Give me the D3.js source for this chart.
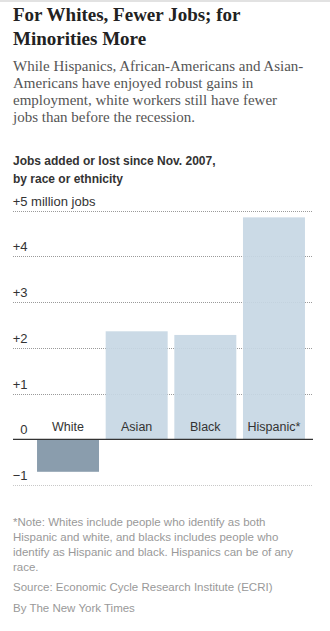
<!DOCTYPE html>
<html>
<head>
<meta charset="utf-8">
<script src="https://cdn.jsdelivr.net/npm/d3@7"></script>
<style>
  html, body { margin: 0; padding: 0; background: #fff; }
  svg { display: block; }
</style>
</head>
<body>
<svg id="chart" width="330" height="631"></svg>
<script>
// ---- Data ----
const categories = ["White", "Asian", "Black", "Hispanic*"];
const jobsChange = [-0.71, 2.36, 2.28, 4.85]; // millions of jobs since Nov. 2007
const yTicks = [-1, 0, 1, 2, 3, 4, 5];
const yTickLabels = ["\u22121", "0", "+1", "+2", "+3", "+4", "+5"];
const yTopSuffix = " million jobs";

const titleLines = ["For Whites, Fewer Jobs; for", "Minorities More"];
const subtitleLines = [
  "While Hispanics, African-Americans and Asian-",
  "Americans have enjoyed robust gains in",
  "employment, white workers still have fewer",
  "jobs than before the recession."
];
const headerLines = ["Jobs added or lost since Nov. 2007,", "by race or ethnicity"];
const noteLines = [
  "*Note: Whites include people who identify as both",
  "Hispanic and white, and blacks includes people who",
  "identify as Hispanic and black. Hispanics can be of any",
  "race."
];
const sourceText = "Source: Economic Cycle Research Institute (ECRI)";
const creditText = "By The New York Times";

// ---- Layout ----
const svg = d3.select("#chart");
const left = 13, right = 313;
const sans = "'Liberation Sans', Arial, Helvetica, sans-serif";
const serif = "'Liberation Serif', 'Times New Roman', serif";

// top border
svg.append("rect").attr("x", 0).attr("y", 0).attr("width", 330).attr("height", 2).attr("fill", "#e2e2e2");

// Title
svg.append("g").selectAll("text").data(titleLines).join("text")
  .attr("x", left).attr("y", (d, i) => 20.7 + i * 24.3)
  .attr("font-family", serif).attr("font-weight", "bold").attr("font-size", 19)
  .attr("fill", "#222").text(d => d);

// Subtitle
svg.append("g").selectAll("text").data(subtitleLines).join("text")
  .attr("x", left).attr("y", (d, i) => 70.7 + i * 17.2)
  .attr("font-family", serif).attr("font-size", 15)
  .attr("fill", "#555").text(d => d);

// Chart header
svg.append("g").selectAll("text").data(headerLines).join("text")
  .attr("x", left).attr("y", (d, i) => 165 + i * 17.7)
  .attr("font-family", sans).attr("font-weight", "bold").attr("font-size", 12)
  .attr("fill", "#333").text(d => d);

// Scales
const y = d3.scaleLinear().domain([0, 5]).range([439.3, 210.5]);
const x = d3.scaleBand().domain(categories).range([33.7, 308.3])
  .paddingInner(0.097).paddingOuter(0.0485);

// Gridlines
const grid = svg.append("g");
grid.selectAll("line").data(yTicks.filter(d => d !== 0)).join("line")
  .attr("x1", left).attr("x2", right)
  .attr("y1", d => Math.round(y(d)) + 0.5).attr("y2", d => Math.round(y(d)) + 0.5)
  .attr("stroke", d => d < 0 ? "#c8c8c8" : "#9a9a9a")
  .attr("stroke-width", 1)
  .attr("stroke-dasharray", "1,1");

// Bars
const bars = categories.map((c, i) => ({ cat: c, val: jobsChange[i] }));
svg.append("g").selectAll("rect").data(bars).join("rect")
  .attr("x", d => x(d.cat))
  .attr("width", x.bandwidth())
  .attr("y", d => y(Math.max(0, d.val)))
  .attr("height", d => Math.abs(y(d.val) - y(0)))
  .attr("fill", d => d.val < 0 ? "#8a9dad" : "#c7d7e4")
  .attr("fill-opacity", d => d.val < 0 ? 1 : 0.92);

// Zero line
svg.append("line")
  .attr("x1", left).attr("x2", right)
  .attr("y1", y(0)).attr("y2", y(0))
  .attr("stroke", "#333").attr("stroke-width", 1.2);

// Tick labels
const tickG = svg.append("g");
tickG.selectAll("text").data(yTicks).join("text")
  .attr("x", 27.5).attr("y", d => y(d) - 5)
  .attr("text-anchor", "end")
  .attr("font-family", sans).attr("font-size", 13)
  .attr("fill", "#333")
  .text((d, i) => yTickLabels[i]);
tickG.append("text")
  .attr("x", 27.5).attr("y", y(5) - 5)
  .attr("font-family", sans).attr("font-size", 13)
  .attr("fill", "#333").attr("xml:space", "preserve")
  .style("white-space", "pre")
  .text(yTopSuffix);

// Category labels
svg.append("g").selectAll("text").data(bars).join("text")
  .attr("x", d => x(d.cat) + x.bandwidth() / 2)
  .attr("y", y(0) - 8.5)
  .attr("text-anchor", "middle")
  .attr("font-family", sans).attr("font-size", 12.5)
  .attr("fill", "#333").text(d => d.cat);

// Notes
svg.append("g").selectAll("text").data(noteLines).join("text")
  .attr("x", left).attr("y", (d, i) => 525.5 + i * 15)
  .attr("font-family", sans).attr("font-size", 11.5)
  .attr("fill", "#999").text(d => d);
svg.append("text").attr("x", left).attr("y", 591)
  .attr("font-family", sans).attr("font-size", 11.5)
  .attr("fill", "#999").text(sourceText);
svg.append("text").attr("x", left).attr("y", 612)
  .attr("font-family", sans).attr("font-size", 11.5)
  .attr("fill", "#999").text(creditText);
</script>
</body>
</html>
